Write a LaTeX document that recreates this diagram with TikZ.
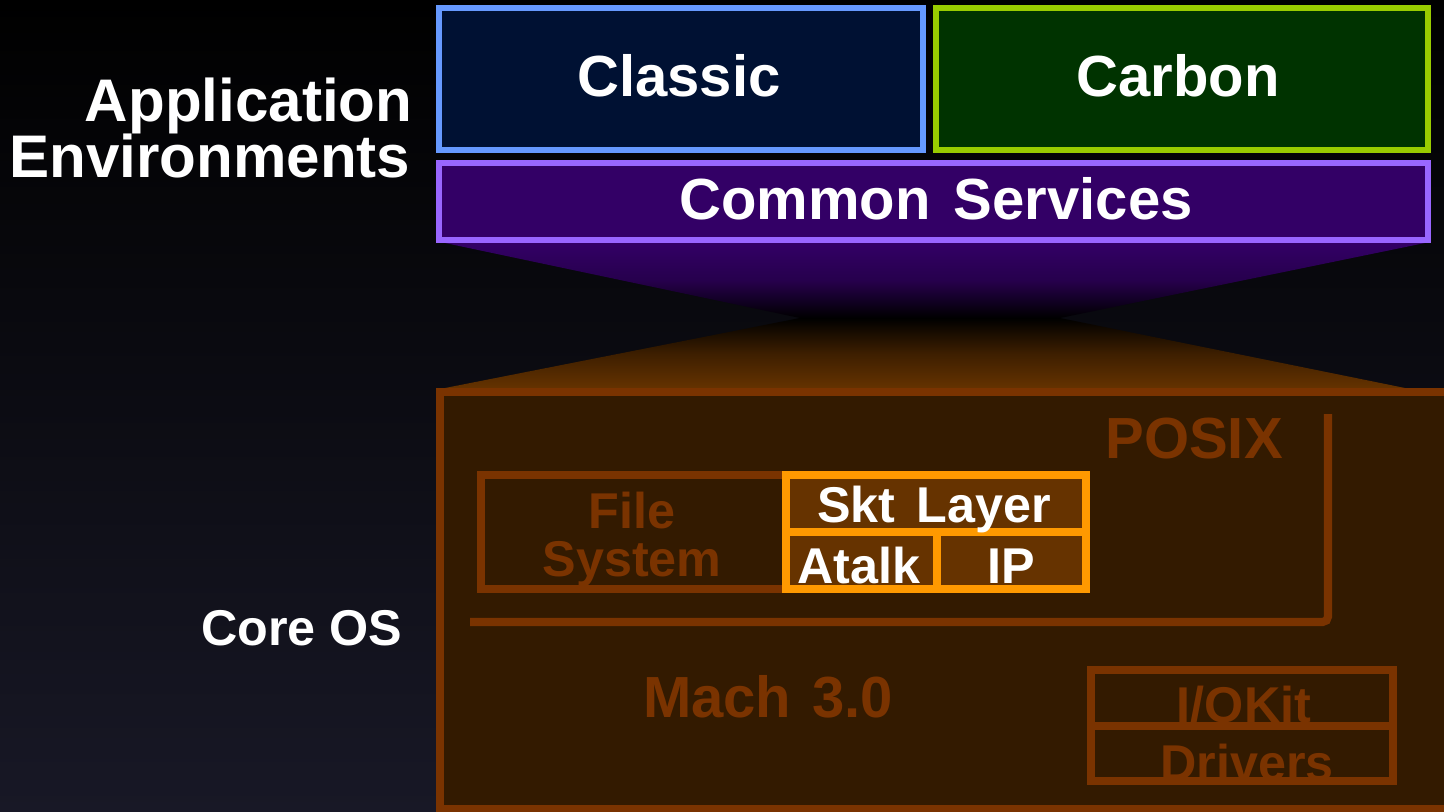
\documentclass[tikz,border=0pt]{standalone}
\usepackage{fontspec}
\setmainfont{Liberation Sans}
\definecolor{bgbot}{RGB}{24,24,38}
\definecolor{classicline}{RGB}{102,153,255}
\definecolor{classicfill}{RGB}{0,17,51}
\definecolor{carbonline}{RGB}{153,204,0}
\definecolor{carbonfill}{RGB}{0,51,0}
\definecolor{commonline}{RGB}{153,102,255}
\definecolor{commonfill}{RGB}{51,0,102}
\definecolor{coreline}{RGB}{122,51,0}
\definecolor{corefill}{RGB}{51,26,0}
\definecolor{orangeline}{RGB}{255,153,0}
\definecolor{orangefill}{RGB}{102,51,0}
\begin{document}
\begin{tikzpicture}[x=0.01cm,y=-0.01cm,
  lbl/.style={text=white,font=\fontsize{16.5}{18}\selectfont\bfseries,inner sep=0pt,anchor=base},
  dimlbl/.style={text=coreline,font=\fontsize{16.5}{18}\selectfont\bfseries,inner sep=0pt,anchor=base},
  small/.style={font=\fontsize{14.3}{16}\selectfont\bfseries},
  side/.style={font=\fontsize{17.1}{19}\selectfont\bfseries},
  orangebox/.style={draw=orangeline,line width=2.3pt,fill=orangefill}]
\useasboundingbox (0,0) rectangle (1444,812);
\clip (0,0) rectangle (1444,812);
% background
\shade[top color=black,bottom color=bgbot] (0,0) rectangle (1444,812);
% top boxes
\filldraw[draw=classicline,fill=classicfill,line width=1.8pt] (439,8) rectangle (923,150);
\filldraw[draw=carbonline,fill=carbonfill,line width=1.8pt] (936,8) rectangle (1428,150);
% funnel
\shade[top color=commonfill,bottom color=black,middle color=commonfill!75!black] (445,243) -- (1425,243) -- (1060,318) -- (800,318) -- cycle;
\shade[top color=black,bottom color=orangefill,middle color=orangefill!60!black] (800,318) -- (1060,318) -- (1410,389) -- (440,389) -- cycle;
\filldraw[draw=commonline,fill=commonfill,line width=1.8pt] (439,163) rectangle (1428,240);
% core box
\filldraw[draw=coreline,fill=corefill,line width=2pt] (440,392) rectangle (1470,809);
% POSIX bracket
\draw[coreline,line width=2.3pt,rounded corners=1.5pt] (1328,414) -- (1328,622) -- (470,622);
% File System
\draw[coreline,line width=2.3pt] (481,475) rectangle (786,589);
% networking boxes
\filldraw[orangebox] (786,475) rectangle (1086,532);
\filldraw[orangebox] (786,532) rectangle (937,589);
\filldraw[orangebox] (937,532) rectangle (1086,589);
% I/O Kit
\draw[coreline,line width=2.3pt] (1091,670) rectangle (1393,781);
\draw[coreline,line width=2.3pt] (1091,726) -- (1393,726);
% labels
\node[lbl] (classic) at (679,97) {Classic};
\node[lbl] (carbon) at (1178,97) {Carbon};
\node[lbl] (common) at (936,219) {Common\hspace{0.12em} Services};
\node[lbl,side,anchor=base east] (app) at (413,122) {Application};
\node[lbl,side,anchor=base east] (env) at (411,177) {Environments};
\node[lbl,small,anchor=base east] (core) at (403,645) {Core OS};
\node[dimlbl] (posix) at (1194,458) {POSIX};
\node[dimlbl,small] (file) at (632,528) {File};
\node[dimlbl,small] (fsys) at (632,577) {System};
\node[lbl,small] (skt) at (934,522) {Skt\hspace{0.15em} Layer};
\node[lbl,small] (atalk) at (859,583) {Atalk};
\node[lbl,small] (ip) at (1011,583) {IP};
\node[dimlbl] (mach) at (768,717) {Mach\hspace{0.08em} 3.0};
\node[dimlbl,small] (iokit) at (1244,722) {I/OKit};
\node[dimlbl,small] (drivers) at (1247,780) {Drivers};
\end{tikzpicture}
\end{document}
